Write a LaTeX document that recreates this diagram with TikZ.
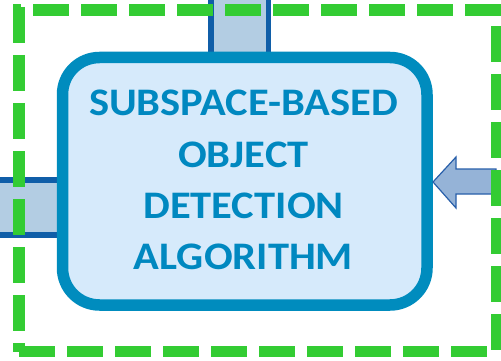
\documentclass[tikz,border=0pt]{standalone}
\usepackage{fontspec}
\setmainfont{Carlito}
\newfontfamily\labelfont[FakeStretch=1.09]{Carlito}
\definecolor{boxline}{RGB}{0,140,190}
\definecolor{boxfill}{RGB}{214,234,251}
\definecolor{boxtext}{RGB}{0,136,192}
\definecolor{barfill}{RGB}{179,205,227}
\definecolor{barline}{RGB}{16,94,168}
\definecolor{arrowfill}{RGB}{149,179,215}
\definecolor{arrowline}{RGB}{40,95,170}
\definecolor{frame}{RGB}{51,204,51}
\tikzset{
  bar/.style={fill=barfill, draw=barline, line width=5.5pt},
  mainbox/.style={fill=boxfill, draw=boxline, line width=11.5pt, rounded corners=37pt},
  blockarrow/.style={fill=arrowfill, draw=arrowline, line width=1.2pt, line join=miter},
  greenframe/.style={draw=frame, line width=11.5pt, dash pattern=on 36pt off 12pt},
  label/.style={anchor=base, inner sep=0pt, text=boxtext, font=\labelfont\bfseries\fontsize{39}{47}\selectfont}
}
\begin{document}
\begin{tikzpicture}[x=1pt, y=-1pt]
\useasboundingbox (0,0) rectangle (501,361);

% input bars entering the block from above and from the left
\path[bar] (210.75,-6) rectangle (268.25,64);
\path[bar] (-6,180) rectangle (66,235);

% the algorithm block
\path[mainbox] (62.5,57.5) rectangle (427,305);
\node[label] (t1) at (243.5,116) {SUBSPACE-BASED};
\node[label] (t2) at (243.5,167.5) {OBJECT};
\node[label] (t3) at (243.5,218.5) {DETECTION};
\node[label] (t4) at (243.5,269.5) {ALGORITHM};

% block arrow pointing into the block from the right
\path[blockarrow] (433,182) -- (456,157) -- (456,169) -- (496,169)
  -- (496,194) -- (456,194) -- (456,208) -- cycle;

% dashed green boundary
\path[greenframe, dash phase=28pt] (13,10) -- (502,10);
\path[greenframe, dash phase=36pt] (497,14) -- (497,358);
\path[greenframe] (19,351.5) -- (492,351.5);
\path[greenframe] (19,7) -- (19,352);
\end{tikzpicture}
\end{document}
